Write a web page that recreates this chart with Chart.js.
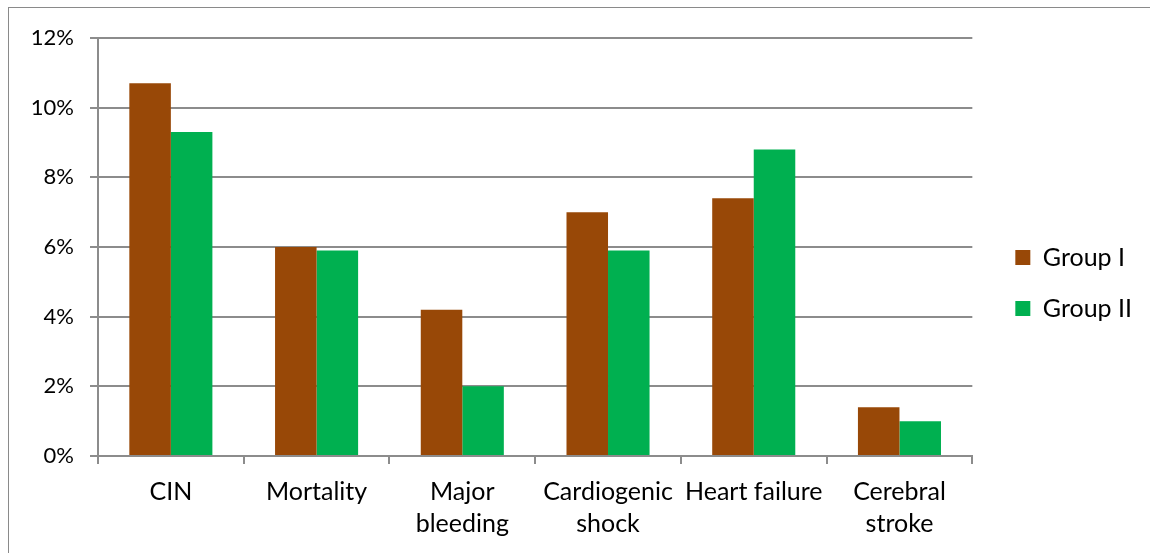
<!DOCTYPE html>
<html><head><meta charset="utf-8">
<script src="https://cdn.jsdelivr.net/npm/chart.js@4"></script>
<style>
html,body{margin:0;padding:0;background:#fff;width:1150px;height:553px;overflow:hidden}
#frame{position:absolute;left:8px;top:7px;width:1160px;height:560px;border:1.5px solid #8a8a8a;box-sizing:border-box}
#wrap{position:absolute;left:0;top:0;width:1150px;height:553px}
</style></head><body>
<div id="frame"></div>
<div id="wrap"><canvas id="c" width="1150" height="553"></canvas></div>
<script>
const categories = ["CIN", "Mortality", ["Major","bleeding"], ["Cardiogenic","shock"], "Heart failure", ["Cerebral","stroke"]];
const seriesNames = ["Group I", "Group II"];
const groupI = [10.7, 6.0, 4.2, 7.0, 7.4, 1.4];
const groupII = [9.3, 5.9, 2.0, 5.9, 8.8, 1.0];
const yTicks = [0, 2, 4, 6, 8, 10, 12];

const FONT = "Lato, 'Open Sans', sans-serif";
const GRID = '#8c8c8c';
new Chart(document.getElementById('c'), {
  type: 'bar',
  data: {
    labels: categories,
    datasets: [
      {label: seriesNames[0], data: groupI, backgroundColor: '#984807', categoryPercentage: 0.57, barPercentage: 1.0},
      {label: seriesNames[1], data: groupII, backgroundColor: '#00B050', categoryPercentage: 0.57, barPercentage: 1.0}
    ]
  },
  options: {
    responsive: false,
    animation: false,
    layout: {padding: {left: 10, top: 13, right: 8, bottom: 0}},
    plugins: {
      legend: {
        position: 'right',
        labels: {font: {family: FONT, size: 25}, color: '#000', boxWidth: 15, boxHeight: 15, padding: 26}
      },
      tooltip: {enabled: false}
    },
    scales: {
      x: {
        afterFit: ax => { ax.height = 97; },
        grid: {drawOnChartArea: false, color: GRID, lineWidth: 2, tickLength: 8, offset: true},
        border: {color: GRID, width: 2},
        ticks: {font: {family: FONT, size: 25, lineHeight: 1.28}, color: '#000', maxRotation: 0, padding: 12}
      },
      xTop: {
        type: 'category', position: 'top', labels: [],
        grid: {display: false}, border: {display: false}, ticks: {display: false},
        afterFit: ax => { ax.height = 25; }
      },
      y: {
        min: 0, max: 12,
        afterFit: ax => { ax.width = 88; },
        afterBuildTicks: (ax) => { ax.ticks = yTicks.map(v => ({value: v})); },
        grid: {color: GRID, lineWidth: 2, tickLength: 8},
        border: {color: GRID, width: 2},
        ticks: {font: {family: FONT, size: 22}, color: '#000', padding: 16, callback: v => v + '%'}
      },
      yRight: {
        type: 'linear', position: 'right',
        grid: {display: false}, border: {display: false}, ticks: {display: false},
        afterFit: ax => { ax.width = 17; }
      }
    }
  }
});
</script>
</body></html>
